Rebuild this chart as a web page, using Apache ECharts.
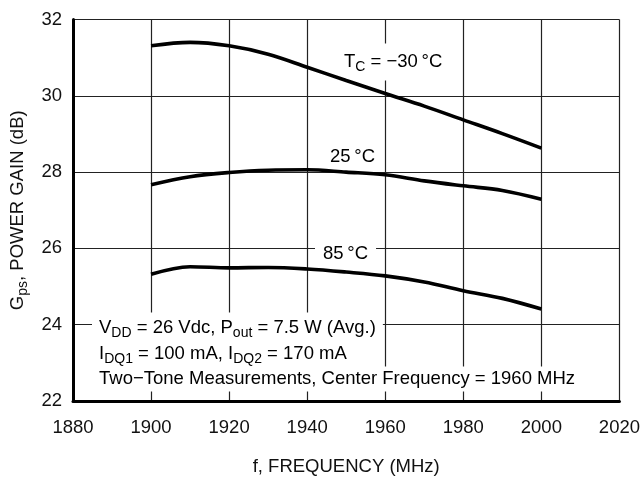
<!DOCTYPE html>
<html>
<head>
<meta charset="utf-8">
<script src="https://cdn.jsdelivr.net/npm/echarts@6/dist/echarts.min.js"></script>
<style>
html,body{margin:0;padding:0;background:#fff;}
#c{width:643px;height:481px;}
</style>
</head>
<body>
<div id="c"></div>
<script>
const freq = [1900, 1910, 1920, 1930, 1940, 1950, 1960, 1970, 1980, 1990, 2000];
const gainM30 = [31.31, 31.40, 31.31, 31.09, 30.75, 30.40, 30.06, 29.73, 29.37, 29.01, 28.63];
const gain25 = [27.67, 27.88, 27.99, 28.05, 28.06, 28.00, 27.93, 27.77, 27.64, 27.52, 27.29];
const gain85 = [25.32, 25.52, 25.49, 25.50, 25.46, 25.38, 25.28, 25.12, 24.89, 24.69, 24.41];
const xTicks = [1880, 1900, 1920, 1940, 1960, 1980, 2000, 2020];
const yTicks = [22, 24, 26, 28, 30, 32];

const FONT = '"Liberation Sans", Arial, Helvetica, sans-serif';
const FS = 18.5;
const rich = {
  n: {fontFamily: FONT, fontSize: FS, color: '#111'},
  s: {fontFamily: FONT, fontSize: 14, color: '#111', padding: [11, 0, 0, 0]}
};

function pairs(ys) { return freq.map((f, i) => [f, ys[i]]); }
function curve(ys) {
  return {
    type: 'line', data: pairs(ys), smooth: 0.35, symbol: 'none',
    lineStyle: {color: '#000', width: 3.6}, z: 3, silent: true
  };
}
function label(x, y, text, pad) {
  return {
    type: 'text', x: x, y: y, z: 1,
    style: {
      text: text, rich: rich, align: 'left', verticalAlign: 'middle',
      backgroundColor: '#fff', padding: pad || [3, 7, 3, 7]
    }
  };
}

const chart = echarts.init(document.getElementById('c'));
chart.setOption({
  animation: false,
  backgroundColor: '#fff',
  grid: {left: 73, right: 22, top: 19.5, bottom: 78},
  xAxis: {
    type: 'value', min: xTicks[0], max: xTicks[xTicks.length - 1], interval: 20,
    name: 'f, FREQUENCY (MHz)', nameLocation: 'middle', nameGap: 56,
    nameTextStyle: {fontFamily: FONT, fontSize: FS, color: '#111'},
    axisLine: {show: true, onZero: false, lineStyle: {color: '#000', width: 3}},
    axisTick: {show: false},
    axisLabel: {fontFamily: FONT, fontSize: FS, color: '#111', margin: 17, formatter: v => String(v)},
    splitLine: {show: true, lineStyle: {color: '#222', width: 1.2}}
  },
  yAxis: {
    type: 'value', min: yTicks[0], max: yTicks[yTicks.length - 1], interval: 2,
    name: '{n|G}{s|ps}{n|, POWER GAIN (dB)}', nameLocation: 'middle', nameGap: 40,
    nameTextStyle: {rich: rich},
    axisLine: {show: true, onZero: false, lineStyle: {color: '#000', width: 3}},
    axisTick: {show: false},
    axisLabel: {fontFamily: FONT, fontSize: FS, color: '#111', margin: 11, formatter: v => String(v)},
    splitLine: {show: true, lineStyle: {color: '#222', width: 1.2}}
  },
  series: [curve(gainM30), curve(gain25), curve(gain85)],
  graphic: [
    label(338, 62, '{n|T}{s|C}{n| = −30\u2009°C}', [6, 6, 6, 6]),
    label(323, 157, '{n|25\u2009°C}'),
    label(315, 254, '{n|85\u2009°C}', [3, 8, 3, 8]),
    label(92, 328, '{n|V}{s|DD}{n| = 26 Vdc, P}{s|out}{n| = 7.5 W (Avg.)}'),
    label(92, 354, '{n|I}{s|DQ1}{n| = 100 mA, I}{s|DQ2}{n| = 170 mA}'),
    label(92, 379, '{n|Two−Tone Measurements, Center Frequency = 1960 MHz}')
  ]
});
</script>
</body>
</html>
